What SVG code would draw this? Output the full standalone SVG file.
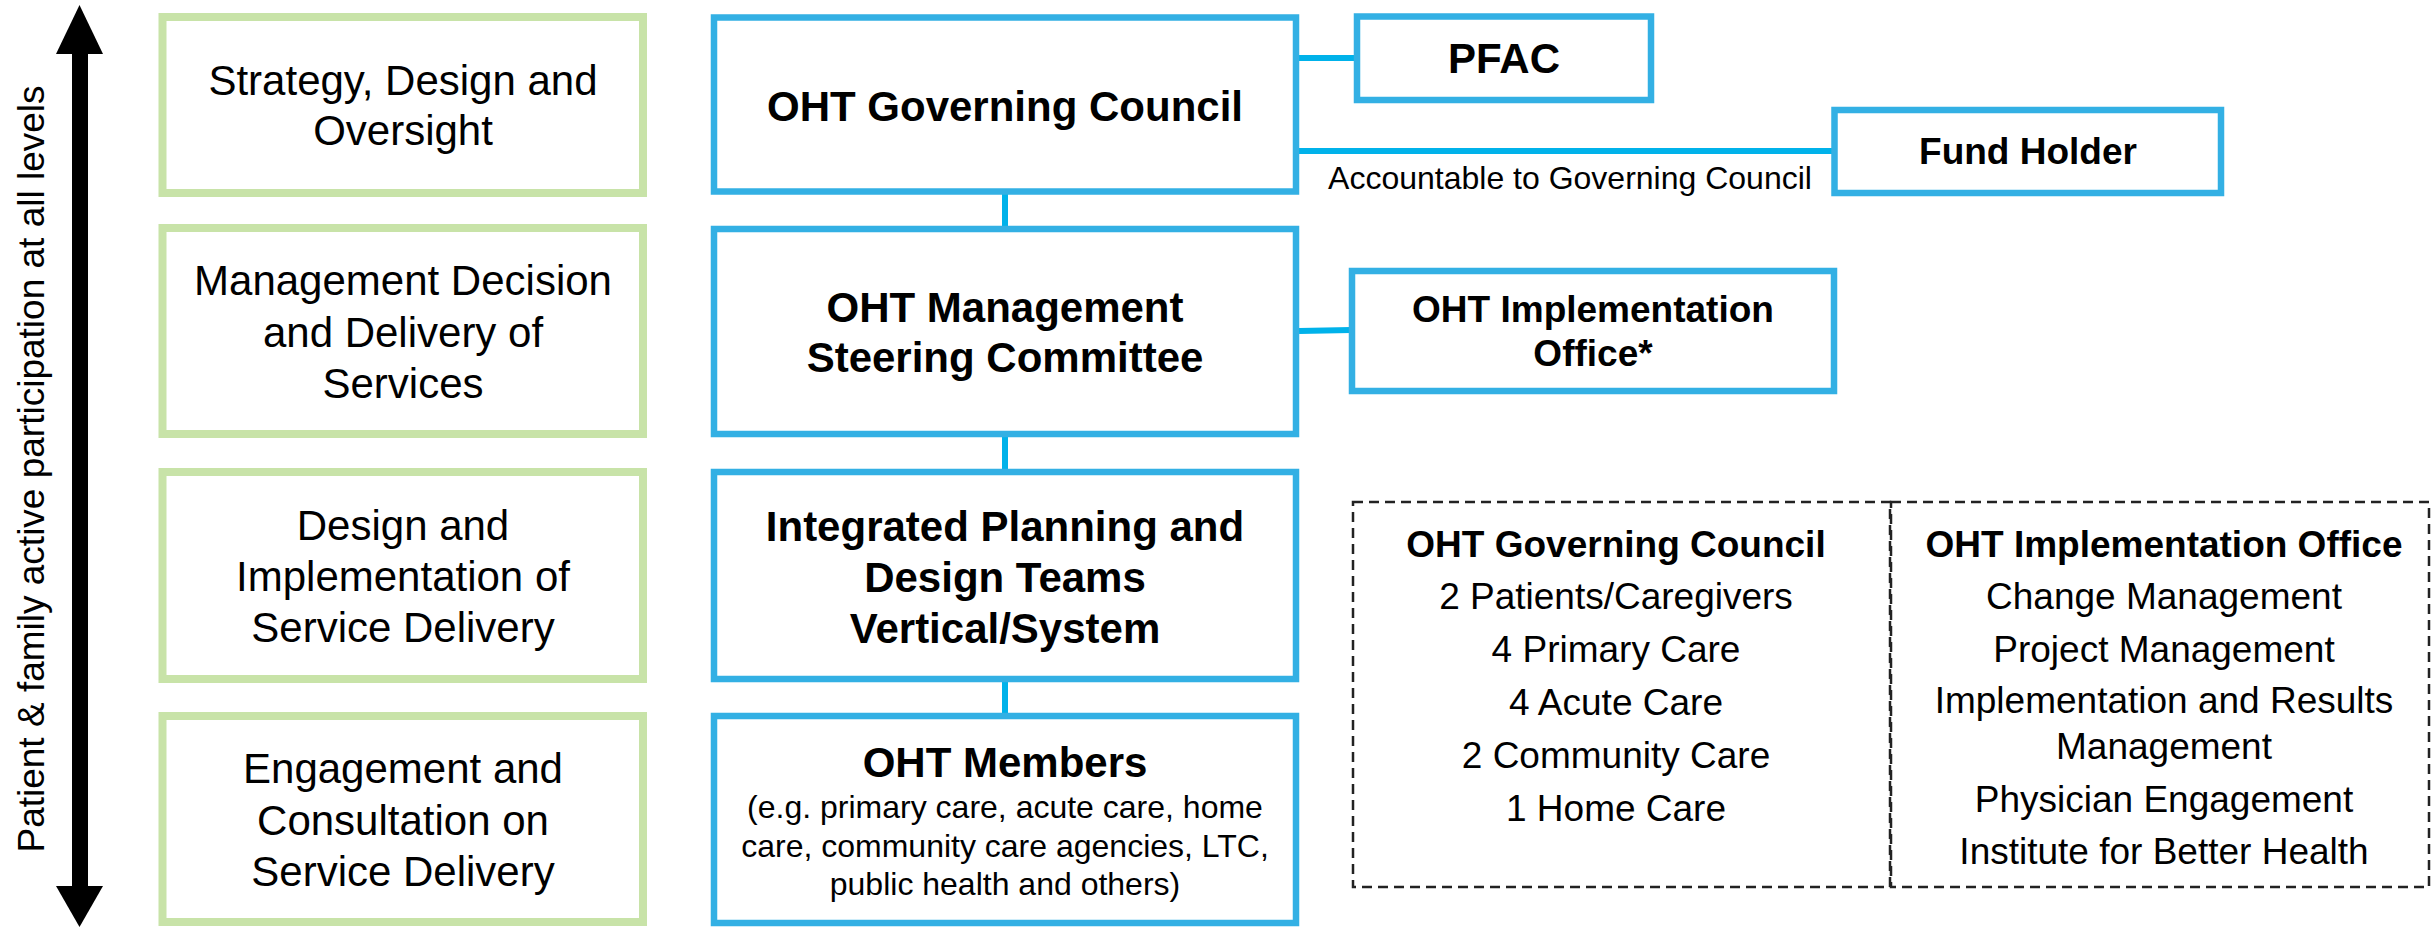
<svg xmlns="http://www.w3.org/2000/svg" width="2432" height="927" viewBox="0 0 2432 927">
<style>
.lvl{fill:#fff;stroke:#C8E3A8;stroke-width:8}
.box{fill:#fff;stroke:#33B0E4;stroke-width:6.5}
.con{stroke:#00B2EA;stroke-width:6;fill:none}
.dash{fill:none;stroke:#222;stroke-width:2.5;stroke-dasharray:10 6}
text{font-family:"Liberation Sans",Arial,sans-serif;fill:#000;text-anchor:middle}
.l{font-size:42px}
.b{font-size:42px;font-weight:bold}
.bm{font-size:37px;font-weight:bold}
.s{font-size:32px}
.m{font-size:37px}
</style>
<rect width="2432" height="927" fill="#fff"/>
<g id="side-arrow">
<rect x="72" y="50" width="16" height="840" fill="#000"/>
<polygon points="79.5,5 56,54 103,54" fill="#000"/>
<polygon points="79.5,927 56,886 103,886" fill="#000"/>
<text transform="translate(44,469) rotate(-90)" style="font-size:37px">Patient &amp; family active participation at all levels</text>
</g>
<g id="connectors">
<line class="con" x1="1005" y1="194" x2="1005" y2="230"/>
<line class="con" x1="1005" y1="436" x2="1005" y2="471"/>
<line class="con" x1="1005" y1="681" x2="1005" y2="715"/>
<line class="con" x1="1299" y1="58" x2="1356" y2="58"/>
<line class="con" x1="1299" y1="151" x2="1833" y2="151"/>
<line class="con" x1="1299" y1="331" x2="1351" y2="330"/>
<text x="1570" y="189" class="s">Accountable to Governing Council</text>
</g>
<g id="level-strategy">
<rect class="lvl" x="162.5" y="17" width="480.5" height="176"/>
<text class="l" x="403" y="95">Strategy, Design and</text>
<text class="l" x="403" y="145">Oversight</text>
</g>
<g id="level-management">
<rect class="lvl" x="162.5" y="228" width="480.5" height="206"/>
<text class="l" x="403" y="295">Management Decision</text>
<text class="l" x="403" y="347">and Delivery of</text>
<text class="l" x="403" y="398">Services</text>
</g>
<g id="level-design">
<rect class="lvl" x="162.5" y="472" width="480.5" height="207"/>
<text class="l" x="403" y="540">Design and</text>
<text class="l" x="403" y="591">Implementation of</text>
<text class="l" x="403" y="642">Service Delivery</text>
</g>
<g id="level-engagement">
<rect class="lvl" x="162.5" y="716" width="480.5" height="206"/>
<text class="l" x="403" y="783">Engagement and</text>
<text class="l" x="403" y="835">Consultation on</text>
<text class="l" x="403" y="886">Service Delivery</text>
</g>
<g id="governing-council">
<rect class="box" x="714" y="17.5" width="582" height="174"/>
<text class="b" x="1005" y="121">OHT Governing Council</text>
</g>
<g id="management-steering">
<rect class="box" x="714" y="229" width="582" height="205"/>
<text class="b" x="1005" y="322">OHT Management</text>
<text class="b" x="1005" y="372">Steering Committee</text>
</g>
<g id="planning-teams">
<rect class="box" x="714" y="472" width="582" height="207"/>
<text class="b" x="1005" y="541">Integrated Planning and</text>
<text class="b" x="1005" y="592">Design Teams</text>
<text class="b" x="1005" y="643">Vertical/System</text>
</g>
<g id="members">
<rect class="box" x="714" y="716" width="582" height="207"/>
<text class="b" x="1005" y="777">OHT Members</text>
<text class="s" x="1005" y="818">(e.g. primary care, acute care, home</text>
<text class="s" x="1005" y="857">care, community care agencies, LTC,</text>
<text class="s" x="1005" y="895">public health and others)</text>
</g>
<g id="pfac">
<rect class="box" x="1357" y="16.5" width="294" height="83.5"/>
<text class="b" x="1504" y="73">PFAC</text>
</g>
<g id="fund-holder">
<rect class="box" x="1834.5" y="110" width="386.5" height="83"/>
<text class="bm" x="2028" y="164">Fund Holder</text>
</g>
<g id="implementation-office">
<rect class="box" x="1352" y="271" width="482" height="120"/>
<text class="bm" x="1593" y="322">OHT Implementation</text>
<text class="bm" x="1593" y="366">Office*</text>
</g>
<g id="legend-council">
<rect class="dash" x="1353" y="502" width="537" height="385"/>
<text class="bm" x="1616" y="557">OHT Governing Council</text>
<text class="m" x="1616" y="609">2 Patients/Caregivers</text>
<text class="m" x="1616" y="662">4 Primary Care</text>
<text class="m" x="1616" y="715">4 Acute Care</text>
<text class="m" x="1616" y="768">2 Community Care</text>
<text class="m" x="1616" y="821">1 Home Care</text>
</g>
<g id="legend-office">
<rect class="dash" x="1891" y="502" width="538" height="385"/>
<text class="bm" x="2164" y="557">OHT Implementation Office</text>
<text class="m" x="2164" y="609">Change Management</text>
<text class="m" x="2164" y="662">Project Management</text>
<text class="m" x="2164" y="713">Implementation and Results</text>
<text class="m" x="2164" y="759">Management</text>
<text class="m" x="2164" y="812">Physician Engagement</text>
<text class="m" x="2164" y="864">Institute for Better Health</text>
</g>
</svg>
